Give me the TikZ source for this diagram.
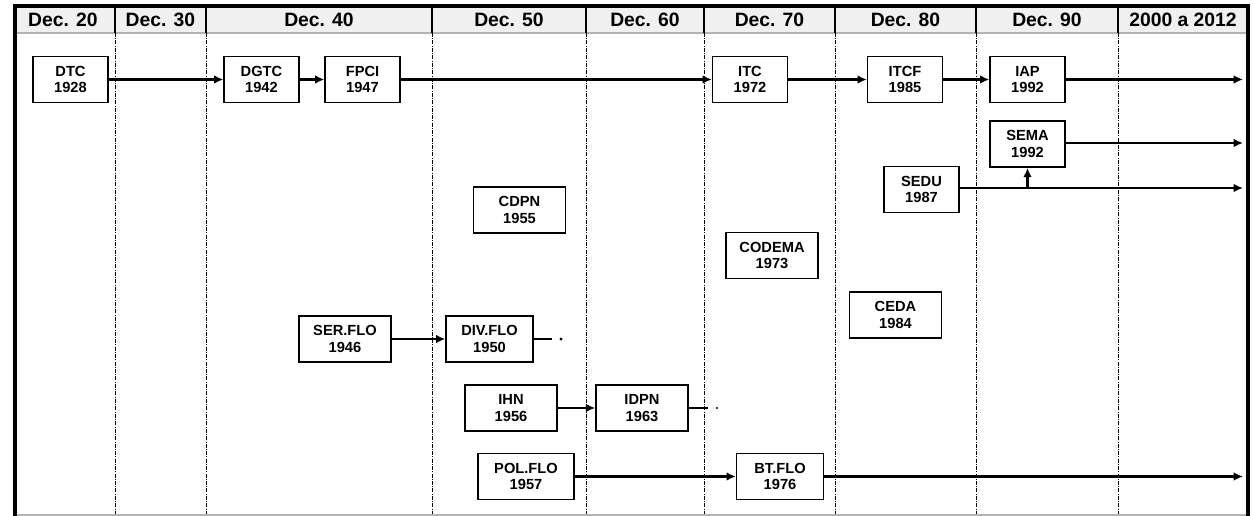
\documentclass[tikz,border=0pt]{standalone}
\usepackage{fontspec}
\setmainfont{Liberation Sans}
\usetikzlibrary{arrows.meta,calc}

\tikzset{
  unitbox/.style={draw, line width=1.2pt, fill=white, align=center,
    font=\bfseries\fontsize{11}{12.5}\selectfont,
    minimum height=34.5pt, minimum width=56pt, inner sep=1pt},
  widebox/.style={unitbox, minimum width=69pt},
  flow/.style={line width=1.9pt, -{Latex[length=7pt,width=6.5pt]}},
  stub/.style={line width=1.9pt},
  decade/.style={font=\bfseries\fontsize{14.5}{14.5}\selectfont},
  divider/.style={line width=0.7pt, dash pattern=on 3pt off 1pt on 0.6pt off 1pt}
}

\begin{document}
\begin{tikzpicture}[x=0.75pt,y=-0.75pt]
  \useasboundingbox (0,0) rectangle (1253,516);
  % header band and decade dividers
  \fill[gray!12] (15,6) rectangle (1248,33);
  \draw[gray!60, line width=0.8pt] (15,33) -- (1248,33);
  \foreach \xd in {115,206,432,586,704,835,976,1118}{
    \draw[line width=0.8pt] (\xd,6) -- (\xd,33);
    \draw[divider] (\xd,33) -- (\xd,516);
  }
  \draw[gray!60, line width=0.8pt] (15,515) -- (1248,515);
  \draw[line width=2.4pt] (15,516) -- (15,6) -- (1248,6) -- (1248,516);

  % decades
  \node[decade] (d20) at (63,20) {Dec. 20};
  \node[decade] (d30) at (160.5,20) {Dec. 30};
  \node[decade] (d40) at (319,20) {Dec. 40};
  \node[decade] (d50) at (509,20) {Dec. 50};
  \node[decade] (d60) at (645,20) {Dec. 60};
  \node[decade] (d70) at (769.5,20) {Dec. 70};
  \node[decade] (d80) at (905.5,20) {Dec. 80};
  \node[decade] (d90) at (1047,20) {Dec. 90};
  \node[decade] (d00) at (1183,20) {2000 a 2012};

  % institutions
  \node[unitbox] (dtc) at (70.5,79.5) {DTC\\1928};
  \node[unitbox] (dgtc) at (261.5,79.5) {DGTC\\1942};
  \node[unitbox] (fpci) at (362.5,79.5) {FPCI\\1947};
  \node[unitbox] (itc) at (750,79.5) {ITC\\1972};
  \node[unitbox] (itcf) at (905,79.5) {ITCF\\1985};
  \node[unitbox] (iap) at (1027.5,79.5) {IAP\\1992};
  \node[unitbox] (sema) at (1027.5,144) {SEMA\\1992};
  \node[unitbox] (sedu) at (921.5,189.5) {SEDU\\1987};
  \node[widebox] (cdpn) at (519.5,210) {CDPN\\1955};
  \node[widebox] (codema) at (772,255.5) {CODEMA\\1973};
  \node[widebox] (ceda) at (895.5,315) {CEDA\\1984};
  \node[widebox] (serflo) at (345,339) {SER.FLO\\1946};
  \node[widebox, minimum width=65pt] (divflo) at (489.5,339) {DIV.FLO\\1950};
  \node[widebox] (ihn) at (511,408) {IHN\\1956};
  \node[widebox] (idpn) at (642,408) {IDPN\\1963};
  \node[widebox, minimum width=72pt] (polflo) at (526,476.5) {POL.FLO\\1957};
  \node[widebox, minimum width=65pt] (btflo) at (780,476.5) {BT.FLO\\1976};

  % free ends
  \coordinate (iapend) at (1243,79.5);
  \coordinate (semaend) at (1243,143);
  \coordinate (seduend) at (1243,188);
  \coordinate (btend) at (1243,476.5);
  \coordinate (divend) at (552,339);
  \coordinate (divdot) at (561,339);
  \coordinate (idpnend) at (708,408);
  \coordinate (idpndot) at (717,408);
  \coordinate (branch) at (sema.south |- seduend);

  % lines of succession
  \draw[flow] (dtc) -- (dgtc);
  \draw[flow] (dgtc) -- (fpci);
  \draw[flow] (fpci) -- (itc);
  \draw[flow] (itc) -- (itcf);
  \draw[flow] (itcf) -- (iap);
  \draw[flow] (iap) -- (iapend);
  \draw[flow] (sema.east |- semaend) -- (semaend);
  \draw[flow] (sedu.east |- seduend) -- (seduend);
  \draw[flow] (branch) -- (sema.south);
  \draw[flow] (serflo) -- (divflo);
  \draw[stub] (divflo.east) -- (divend);
  \fill (divdot) circle[radius=1.2pt];
  \draw[flow] (ihn) -- (idpn);
  \draw[stub] (idpn.east) -- (idpnend);
  \fill (idpndot) circle[radius=0.9pt];
  \draw[flow] (polflo) -- (btflo);
  \draw[flow] (btflo) -- (btend);
\end{tikzpicture}
\end{document}
